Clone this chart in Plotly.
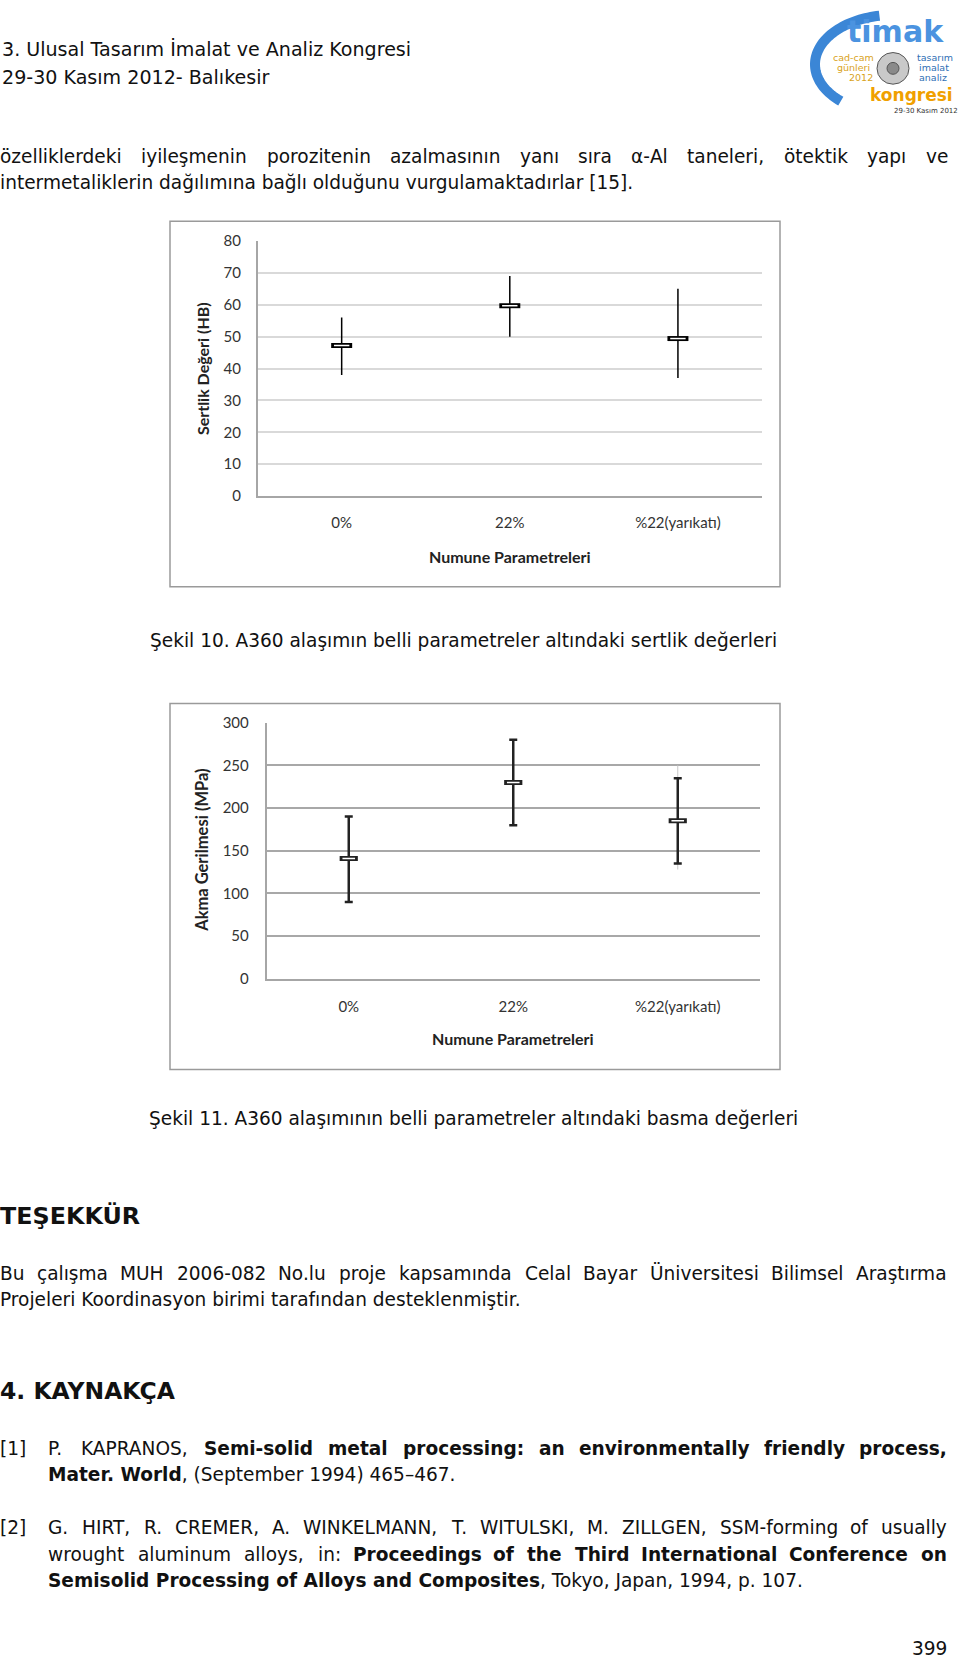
import numpy as np
import plotly.graph_objects as go

W, H = 960, 1663

# ---------------- data ----------------
categories = ["0%", "22%", "%22(yarıkatı)"]

hardness_mean = [47.2, 59.7, 49.4]
hardness_low = [38.0, 50.0, 37.0]
hardness_high = [56.0, 69.0, 65.0]
hardness_ticks = [0, 10, 20, 30, 40, 50, 60, 70, 80]

yield_mean = [141.0, 230.0, 185.0]
yield_low = [90.0, 180.0, 135.0]
yield_high = [190.0, 280.0, 235.0]
yield_faint_low = [None, None, 128.0]
yield_faint_high = [None, None, 250.0]
yield_ticks = [0, 50, 100, 150, 200, 250, 300]

y_title_1 = "Sertlik Değeri (HB)"
y_title_2 = "Akma Gerilmesi (MPa)"
x_title = "Numune Parametreleri"

header_1 = "3. Ulusal Tasarım İmalat ve Analiz Kongresi"
header_2 = "29-30 Kasım 2012- Balıkesir"
para_1 = "özelliklerdeki iyileşmenin porozitenin azalmasının yanı sıra α-Al taneleri, ötektik yapı ve"
para_2 = "intermetaliklerin dağılımına bağlı olduğunu vurgulamaktadırlar [15]."
caption_10 = "Şekil 10. A360 alaşımın belli parametreler altındaki sertlik değerleri"
caption_11 = "Şekil 11. A360 alaşımının belli parametreler altındaki basma değerleri"
heading_thanks = "TEŞEKKÜR"
thanks_1 = "Bu çalışma MUH 2006-082 No.lu proje kapsamında Celal Bayar Üniversitesi Bilimsel Araştırma"
thanks_2 = "Projeleri Koordinasyon birimi tarafından desteklenmiştir."
heading_refs = "4. KAYNAKÇA"
ref1_label = "[1]"
ref1_l1 = "P. KAPRANOS, **Semi-solid metal processing: an environmentally friendly process,**"
ref1_l2 = "**Mater. World**, (September 1994) 465–467."
ref2_label = "[2]"
ref2_l1 = "G. HIRT, R. CREMER, A. WINKELMANN, T. WITULSKI, M. ZILLGEN, SSM-forming of usually"
ref2_l2 = "wrought aluminum alloys, in: **Proceedings of the Third International Conference on**"
ref2_l3 = "**Semisolid Processing of Alloys and Composites**, Tokyo, Japan, 1994, p. 107."
page_no = "399"

# ---------------- text width estimation (DejaVu Sans metrics) ----------------
REG = {}
def setw(chars, w):
    for c in chars:
        REG[c] = w
setw("ilıj", 569); setw("a", 1255); setw("bdgpqğ", 1300); setw("cç", 1126)
setw("e", 1260); setw("f", 721); setw("hnuü", 1298); setw("k", 1186)
setw("m", 1995); setw("oö", 1253); setw("r", 842); setw("sş", 1067)
setw("t", 803); setw("vxy", 1212); setw("w", 1675); setw("z", 1075)
setw("A", 1401); setw("B", 1405); setw("CÇ", 1430); setw("D", 1577)
setw("E", 1294); setw("F", 1178); setw("G", 1587); setw("H", 1540)
setw("Iİ", 604); setw("J", 604); setw("K", 1343); setw("L", 1141)
setw("M", 1767); setw("N", 1532); setw("OÖ", 1612); setw("P", 1235)
setw("Q", 1612); setw("R", 1423); setw("SŞ", 1300); setw("T", 1251)
setw("UÜ", 1499); setw("V", 1401); setw("W", 2025); setw("X", 1403)
setw("Y", 1251); setw("Z", 1403); setw("0123456789", 1303); setw(" .,", 651)
setw(":;", 690); setw("-", 739); setw("–", 1024); setw("[]()", 799)
setw("α", 1300); setw("%", 1946)


def parse(line):
    parts = line.split("**")
    return [(p, i % 2 == 1) for i, p in enumerate(parts) if p]


def em_of(pieces):
    total = 0.0
    for t, b in pieces:
        w = sum(REG.get(c, 1200) for c in t) / 2048.0
        total += w * (1.12 if b else 1.0)
    return total


def html_of(pieces):
    return "".join(f"<b>{t}</b>" if b else t for t, b in pieces)


def words_of(line):
    words, cur = [], []
    for text, b in parse(line):
        chunks = text.split(" ")
        for k, ch in enumerate(chunks):
            if k > 0 and cur:
                words.append(cur)
                cur = []
            if ch:
                cur.append((ch, b))
    if cur:
        words.append(cur)
    return words


BODY_FONT = "DejaVu Sans"
TEXT_COLOR = "#111111"

fig = go.Figure()


def ann(text, x, y, size, xanchor="left", family=BODY_FONT, color=TEXT_COLOR, angle=0):
    fig.add_annotation(x=x / W, y=1 - y / H, xref="paper", yref="paper", text=text,
                       showarrow=False, xanchor=xanchor, yanchor="middle",
                       borderpad=0, borderwidth=0, textangle=angle,
                       font=dict(family=family, size=size, color=color))


def fit(line, target):
    return target / em_of(parse(line))


def natural(line, x0, y, size, xanchor="left"):
    ann(html_of(parse(line)), x0, y, size, xanchor)


def justify(line, x0, x1, y, size):
    words = words_of(line)
    widths = [em_of(w) * size for w in words]
    gap = (x1 - x0 - sum(widths)) / (len(words) - 1)
    x = x0
    n = len(words)
    for i, (w, wd) in enumerate(zip(words, widths)):
        h = html_of(w)
        if i == 0:
            ann(h, x0, y, size, "left")
        elif i == n - 1:
            ann(h, x1, y, size, "right")
        else:
            ann(h, x + wd / 2, y, size, "center")
        x += wd + gap


body = (fit(para_2, 634) + fit(thanks_2, 525)) / 2.0
head = fit(header_1, 414)

# ---------------- page text ----------------
natural(header_1, 2, 40, head)
natural(header_2, 2, 68, head)
justify(para_1, 0, 948, 148, body)
natural(para_2, 0, 174, body)
natural(caption_10, 150, 637, body)
natural(caption_11, 149, 1121, body)
natural("**" + heading_thanks + "**", 0, 1219, fit("**" + heading_thanks + "**", 140))
justify(thanks_1, 0, 947, 1277, body)
natural(thanks_2, 0, 1304, body)
natural("**" + heading_refs + "**", 0, 1396, fit("**" + heading_refs + "**", 176))
natural(ref1_label, 0, 1454, body)
justify(ref1_l1, 48, 947, 1454, body)
natural(ref1_l2, 48, 1481, body)
natural(ref2_label, 0, 1534, body)
justify(ref2_l1, 48, 947, 1534, body)
justify(ref2_l2, 48, 947, 1561, body)
natural(ref2_l3, 48, 1588, body)
natural(page_no, 947, 1656, body, "right")

# ---------------- logo (decoration) ----------------
t = np.linspace(np.radians(100), np.radians(228), 60)
cx, cy, rx, ry = 893, 55, 78, 50
pts = [((cx + rx * np.cos(a)) / W, 1 - (cy - ry * np.sin(a)) / H) for a in t]
path = "M " + " L ".join(f"{x:.5f},{y:.5f}" for x, y in pts)
shapes = [dict(type="path", path=path, xref="paper", yref="paper",
               line=dict(color="#3b86d6", width=10))]
for (r, fill) in [(16, "#c9c9c9"), (6, "#8a8a8a")]:
    shapes.append(dict(type="circle", xref="paper", yref="paper",
                       x0=(893 - r) / W, x1=(893 + r) / W,
                       y0=1 - (59 + r) / H, y1=1 - (59 - r) / H,
                       fillcolor=fill, line=dict(color="#555555", width=1)))
ann("<b>timak</b>", 895, 22, 30, "center", family="DejaVu Sans", color="#4b93e0")
for txt, x, y in [("cad-cam", 853, 48), ("günleri", 853, 58), ("2012", 861, 68)]:
    ann(txt, x, y, 9.5, "center", color="#d9a21b")
for txt, x, y in [("tasarım", 935, 48), ("imalat", 934, 58), ("analiz", 933, 68)]:
    ann(txt, x, y, 9.5, "center", color="#2f6fb5")
ann("<b>kongresi</b>", 911, 86, 17, "center", color="#f0a000")
ann("29-30 Kasım 2012", 926, 102, 7, "center", color="#333333")

# ---------------- chart frames ----------------
for (y0, y1) in [(213.5, 583), (701, 1071)]:
    shapes.append(dict(type="rect", xref="paper", yref="paper",
                       x0=170 / W, x1=780 / W, y0=1 - y1 / H, y1=1 - y0 / H,
                       line=dict(color="#9a9a9a", width=1.5), fillcolor="rgba(0,0,0,0)",
                       layer="below"))

# ---------------- traces ----------------
def err(mean, low, high):
    up = [(h - m) if h is not None else 0 for m, h in zip(mean, high)]
    dn = [(m - l) if l is not None else 0 for m, l in zip(mean, low)]
    return up, dn


# chart 1: hardness
up1, dn1 = err(hardness_mean, hardness_low, hardness_high)
fig.add_trace(go.Scatter(x=categories, y=hardness_mean, mode="markers", xaxis="x", yaxis="y",
                         marker=dict(symbol="line-ew", size=15, color="black",
                                     line=dict(width=5, color="black")),
                         error_y=dict(type="data", symmetric=False, array=up1, arrayminus=dn1,
                                      color="black", thickness=1.5, width=0),
                         hoverinfo="skip"))
fig.add_trace(go.Scatter(x=categories, y=hardness_mean, mode="markers", xaxis="x", yaxis="y",
                         marker=dict(symbol="line-ew", size=11, color="white",
                                     line=dict(width=1.5, color="white")),
                         hoverinfo="skip"))

# chart 2: yield stress
faint_y = [m if h is not None else None for m, h in zip(yield_mean, yield_faint_high)]
upf, dnf = err(yield_mean, yield_faint_low, yield_faint_high)
fig.add_trace(go.Scatter(x=categories, y=faint_y, mode="markers", xaxis="x2", yaxis="y2",
                         marker=dict(size=1, color="rgba(0,0,0,0)"),
                         error_y=dict(type="data", symmetric=False, array=upf, arrayminus=dnf,
                                      color="#c8c8c8", thickness=1, width=0),
                         hoverinfo="skip"))
up2, dn2 = err(yield_mean, yield_low, yield_high)
fig.add_trace(go.Scatter(x=categories, y=yield_mean, mode="markers", xaxis="x2", yaxis="y2",
                         marker=dict(symbol="line-ew", size=13, color="black",
                                     line=dict(width=5, color="#222222")),
                         error_y=dict(type="data", symmetric=False, array=up2, arrayminus=dn2,
                                      color="#222222", thickness=2.5, width=4),
                         hoverinfo="skip"))
fig.add_trace(go.Scatter(x=categories, y=yield_mean, mode="markers", xaxis="x2", yaxis="y2",
                         marker=dict(symbol="line-ew", size=9, color="white",
                                     line=dict(width=1.5, color="white")),
                         hoverinfo="skip"))

# axis titles
CH_FONT = "Lato"
ann(f"<b>{x_title}</b>", 510, 552, 16, "center", family=CH_FONT, color="#222222")
ann(f"<b>{x_title}</b>", 513, 1040, 16, "center", family=CH_FONT, color="#222222")
ann(f"<b>{y_title_1}</b>", 202, 363, 16, "center", family=CH_FONT, color="#222222", angle=-90)
ann(f"<b>{y_title_2}</b>", 202, 850, 16.5, "center", family=CH_FONT, color="#222222", angle=-90)

tickfont = dict(family=CH_FONT, size=15, color="#333333")
xcommon = dict(type="category", range=[-0.5, 2.5], showline=True, linecolor="#a6a6a6",
               linewidth=1.5, showgrid=False, zeroline=False, ticks="outside",
               tickcolor="rgba(0,0,0,0)", tickfont=tickfont, fixedrange=True)

fig.update_layout(
    width=W, height=H, margin=dict(l=0, r=0, t=0, b=0),
    paper_bgcolor="white", plot_bgcolor="white", showlegend=False,
    shapes=shapes,
    xaxis=dict(domain=[257.6 / W, 762 / W], anchor="y", ticklen=12, **xcommon),
    yaxis=dict(domain=[1 - 491.4 / H, 1 - 233.5 / H], anchor="x", range=[0, 80],
               tickmode="array", tickvals=hardness_ticks, showgrid=True,
               gridcolor="#d9d9d9", gridwidth=2, showline=True, linecolor="#a6a6a6",
               linewidth=1.5, zeroline=False, ticks="outside", ticklen=12,
               tickcolor="rgba(0,0,0,0)", tickfont=tickfont, fixedrange=True),
    xaxis2=dict(domain=[266.5 / W, 760 / W], anchor="y2", ticklen=13, **xcommon),
    yaxis2=dict(domain=[1 - 979.4 / H, 1 - 720.5 / H], anchor="x2", range=[0, 300],
                tickmode="array", tickvals=yield_ticks, showgrid=True,
                gridcolor="#a8a8a8", gridwidth=1.5, showline=True, linecolor="#a6a6a6",
                linewidth=1.5, zeroline=False, ticks="outside", ticklen=13,
                tickcolor="rgba(0,0,0,0)", tickfont=tickfont, fixedrange=True),
)

fig.write_html("out.html")
